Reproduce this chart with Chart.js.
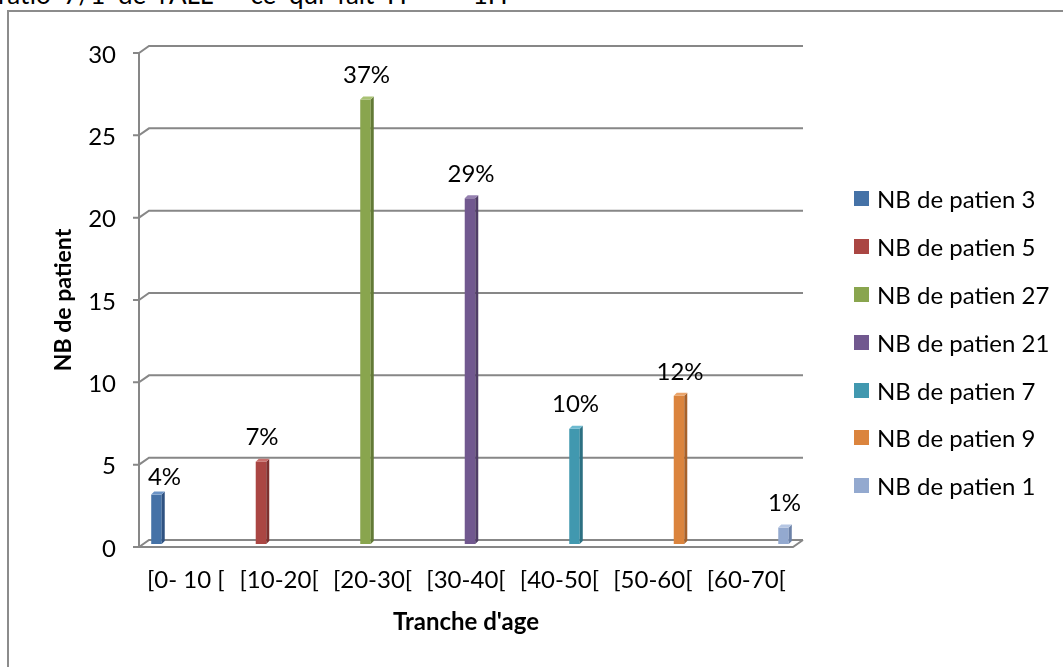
<!DOCTYPE html>
<html>
<head>
<meta charset="utf-8">
<script src="https://cdn.jsdelivr.net/npm/chart.js@4.4.1/dist/chart.umd.min.js"></script>
<style>
  html, body { margin: 0; padding: 0; background: #fff; overflow: hidden; }
  body { width: 1063px; height: 667px; position: relative; font-family: Lato, "Noto Sans", sans-serif; }
  #topline { position: absolute; left: -2px; top: -22px; font-size: 26px; color: #000; white-space: pre; word-spacing: 6px; }
  #frame { position: absolute; left: 7px; top: 10px; width: 1100px; height: 700px; border-left: 2px solid #8c8c8c; border-top: 2px solid #8c8c8c; }
  #chart { position: absolute; left: 0; top: 0; }
  #legend { position: absolute; left: 854px; top: 190px; font-size: 24px; color: #000; }
  #legend .item { height: 47.9px; display: flex; align-items: flex-start; }
  #legend .box { width: 15px; height: 15px; margin-right: 8px; flex: none; position: relative; top: 1px; }
  #legend .txt { line-height: 18px; }
</style>
</head>
<body>
<div id="topline">ratio 7/1 de l'ALL   ce qui fait H  =  1H</div>
<div id="frame"></div>
<canvas id="chart" width="1063" height="667"></canvas>
<div id="legend"></div>
<script>
// tranches d'age
const categories = ['[0- 10 [', '[10-20[', '[20-30[', '[30-40[', '[40-50[', '[50-60[', '[60-70['];
// one series per tranche
const seriesNames = ['NB de patien 3', 'NB de patien 5', 'NB de patien 27', 'NB de patien 21', 'NB de patien 7', 'NB de patien 9', 'NB de patien 1'];
const counts = [3, 5, 27, 21, 7, 9, 1];
const percents = ['4%', '7%', '37%', '29%', '10%', '12%', '1%'];
const yTicks = [0, 5, 10, 15, 20, 25, 30];

const colors = ['#4572A7', '#AA4643', '#89A54E', '#71588F', '#4198AF', '#DB843D', '#93A9CF'];
const sideColors = ['#2f5281', '#7e302e', '#627a36', '#4f3d66', '#2c7082', '#a7612a', '#6c82a8'];
const topColors = ['#6a93c6', '#c9706d', '#a9c274', '#9580b0', '#6dbad0', '#eaa46a', '#b5c6e3'];

const FONT = 'Lato, "Noto Sans", sans-serif';
const GRID = '#878787';
const DX = 10, DY = 7;       // depth of the back wall
const BX = 4, BY = -3;       // bars sit half way in
const BD = 3;                // bar depth

const datasets = seriesNames.map((name, i) => ({
  label: name,
  data: categories.map((c, j) => (j === i ? counts[i] : null)),
  backgroundColor: colors[i],
  borderWidth: 0,
  categoryPercentage: 0.83,
  barPercentage: 0.95
}));

// back wall grid, front axis and floor
const wallPlugin = {
  id: 'wall',
  beforeDatasetsDraw(chart) {
    const { ctx, chartArea: a, scales: { y } } = chart;
    ctx.save();
    ctx.strokeStyle = GRID;
    ctx.lineWidth = 2;
    yTicks.forEach(v => {
      const py = y.getPixelForValue(v);
      ctx.beginPath();
      ctx.moveTo(a.left - 6, py);
      ctx.lineTo(a.left, py);
      ctx.lineTo(a.left + DX, py - DY);
      ctx.lineTo(a.right + DX, py - DY);
      ctx.stroke();
    });
    ctx.beginPath();
    ctx.moveTo(a.left, a.top);
    ctx.lineTo(a.left, a.bottom);
    ctx.lineTo(a.right, a.bottom);
    ctx.lineTo(a.right + DX, a.bottom - DY);
    ctx.stroke();
    ctx.restore();

    ctx.save();
    ctx.translate(BX, BY);
  },
  afterDatasetsDraw(chart) {
    const { ctx } = chart;
    chart.data.datasets.forEach((ds, i) => {
      chart.getDatasetMeta(i).data.forEach((bar, j) => {
        if (ds.data[j] == null) return;
        const { x, y, base, width } = bar.getProps(['x', 'y', 'base', 'width'], true);
        const l = x - width / 2, r = x + width / 2;
        ctx.fillStyle = sideColors[i];
        ctx.beginPath();
        ctx.moveTo(r, y);
        ctx.lineTo(r + BD, y - BD);
        ctx.lineTo(r + BD, base - BD);
        ctx.lineTo(r, base);
        ctx.closePath();
        ctx.fill();
        ctx.fillStyle = topColors[i];
        ctx.beginPath();
        ctx.moveTo(l, y);
        ctx.lineTo(l + BD, y - BD);
        ctx.lineTo(r + BD, y - BD);
        ctx.lineTo(r, y);
        ctx.closePath();
        ctx.fill();

        ctx.fillStyle = '#000';
        ctx.font = '24px ' + FONT;
        ctx.textAlign = 'center';
        ctx.textBaseline = 'middle';
        // the first label sits a little to the right, as in Excel
        ctx.fillText(percents[i], i === 0 ? x + 8 : x + 1, i === 0 ? y - 17 : y - 24);
      });
    });
    ctx.restore();
  }
};

const chart = new Chart(document.getElementById('chart'), {
  type: 'bar',
  data: { labels: categories, datasets: datasets },
  options: {
    responsive: false,
    animation: false,
    devicePixelRatio: 1,
    layout: { padding: { left: 40, top: 53, right: 270, bottom: 20 } },
    plugins: {
      legend: { display: false },
      tooltip: { enabled: false }
    },
    scales: {
      x: {
        grid: { display: false, drawTicks: false },
        border: { display: false },
        ticks: { color: '#000', font: { family: FONT, size: 24 }, padding: 19, maxRotation: 0, autoSkip: false },
        title: { display: true, text: "Tranche d'age", color: '#000', font: { family: FONT, size: 24, weight: 'bold' }, padding: { top: 0, bottom: 10 } },
        afterFit(scale) { scale.height = 100; }
      },
      y: {
        min: 0,
        max: 30,
        grid: { display: false, drawTicks: false },
        border: { display: false },
        ticks: { stepSize: 5, color: '#000', font: { family: FONT, size: 24 }, padding: 23, labelOffset: 2 },
        title: { display: true, text: 'NB de patient', color: '#000', font: { family: FONT, size: 23, weight: 'bold' }, padding: { top: 10, bottom: 0 } },
        afterFit(scale) { scale.width = 99; }
      }
    }
  },
  plugins: [wallPlugin]
});

// legend built from the datasets
const legendEl = document.getElementById('legend');
chart.data.datasets.forEach(ds => {
  const item = document.createElement('div');
  item.className = 'item';
  item.innerHTML = '<span class="box" style="background:' + ds.backgroundColor + '"></span><span class="txt">' + ds.label + '</span>';
  legendEl.appendChild(item);
});
</script>
</body>
</html>
